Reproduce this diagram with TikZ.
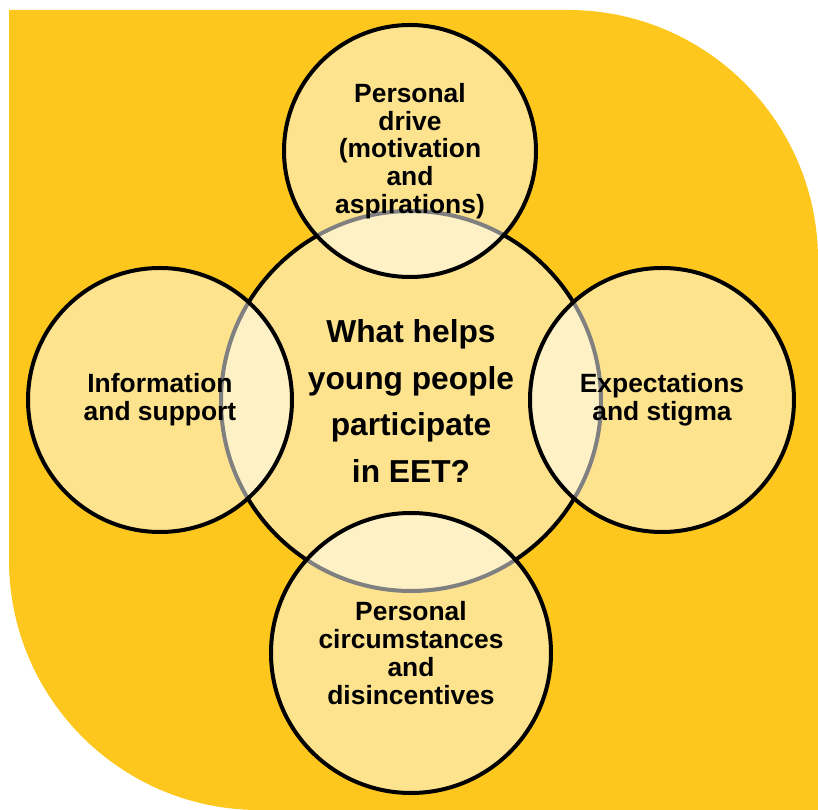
\documentclass[tikz,border=0pt]{standalone}
\usepackage{fontspec}
\setmainfont{Liberation Sans}
\usepackage{tikz}
\usetikzlibrary{positioning}
\definecolor{bgyellow}{HTML}{FDC71E}
\tikzset{
bubble/.style={
  circle,
  draw=black,
  line width=3pt,
  fill=white,
  fill opacity=0.5,
  text opacity=1,
  inner sep=0pt,
  align=center,
  font=\bfseries\fontsize{19.8}{20.8}\selectfont
  },
hub/.style={
  bubble,
  minimum size=285pt,
  font=\bfseries\fontsize{23.8}{35}\selectfont
  }
}

\begin{document}
\begin{tikzpicture}[x=0.75pt,y=0.75pt]
\useasboundingbox (0,0) rectangle (818,810);
\fill[bgyellow] (9,800) -- (568,800) arc[start angle=90,end angle=0,radius=250]
  -- (818,0) -- (259,0) arc[start angle=270,end angle=180,radius=250] -- cycle;

\node[hub] (hub) at (411,409)
  {What helps\\young people\\participate\\in EET?};

\node[bubble,minimum size=189pt] (drive) at (410,659)
  {Personal\\drive\\(motivation\\and\\aspirations)};
\node[bubble,minimum size=198pt] (info) at (160,410)
  {Information\\and support};
\node[bubble,minimum size=198pt] (stigma) at (662,410)
  {Expectations\\and stigma};
\node[bubble,minimum size=210pt] (circ) at (411,157)
  {Personal\\circumstances\\and\\disincentives};

\end{tikzpicture}
\end{document}
